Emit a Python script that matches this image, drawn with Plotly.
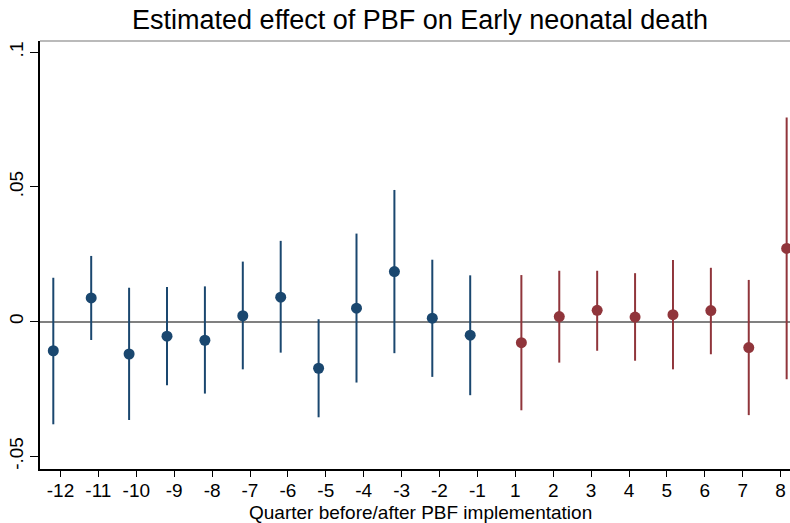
import plotly.graph_objects as go

# ---- data ----
quarters = ["-12", "-11", "-10", "-9", "-8", "-7", "-6", "-5", "-4", "-3", "-2", "-1",
            "1", "2", "3", "4", "5", "6", "7", "8"]

pre_labels = ["-12", "-11", "-10", "-9", "-8", "-7", "-6", "-5", "-4", "-3", "-2", "-1"]
pre_coef = [-0.0108, 0.0088, -0.0120, -0.0054, -0.0069, 0.0022, 0.0091, -0.0173, 0.0050, 0.0186, 0.0013, -0.0050]
pre_lo = [-0.0381, -0.0068, -0.0365, -0.0236, -0.0267, -0.0177, -0.0115, -0.0355, -0.0226, -0.0117, -0.0205, -0.0273]
pre_hi = [0.0163, 0.0244, 0.0126, 0.0129, 0.0131, 0.0223, 0.0300, 0.0009, 0.0327, 0.0489, 0.0230, 0.0172]

post_labels = ["1", "2", "3", "4", "5", "6", "7", "8"]
post_coef = [-0.0078, 0.0019, 0.0042, 0.0017, 0.0026, 0.0041, -0.0096, 0.0272]
post_lo = [-0.0329, -0.0152, -0.0108, -0.0145, -0.0177, -0.0121, -0.0347, -0.0214]
post_hi = [0.0173, 0.0189, 0.0189, 0.0180, 0.0229, 0.0200, 0.0155, 0.0758]

y_tickvals = [-0.05, 0, 0.05, 0.1]
y_ticktext = ["-.05", "0", ".05", ".1"]

title_text = "Estimated effect of PBF on Early neonatal death"
xtitle_text = "Quarter before/after PBF implementation"

BLUE = "#1a476f"
RED = "#90353b"
FONT = "Liberation Sans, Arial, Helvetica, sans-serif"

W, H = 790, 523
ML, MR, MT, MB = 40, 0, 41, 54

pos = {q: i for i, q in enumerate(quarters)}
pre_x = [pos[q] - 0.19 for q in pre_labels]
post_x = [pos[q] + 0.16 for q in post_labels]

fig = go.Figure()


def add_series(xs, coef, lo, hi, color):
    fig.add_trace(go.Scatter(
        x=xs, y=coef, mode="markers",
        marker=dict(color=color, size=11, line=dict(width=0)),
        error_y=dict(type="data", symmetric=False,
                     array=[h - c for h, c in zip(hi, coef)],
                     arrayminus=[c - l for c, l in zip(coef, lo)],
                     color=color, thickness=2, width=0),
        showlegend=False, cliponaxis=True,
    ))


add_series(pre_x, pre_coef, pre_lo, pre_hi, BLUE)
add_series(post_x, post_coef, post_lo, post_hi, RED)

plot_w = W - ML - MR
plot_h = H - MT - MB

fig.update_layout(
    width=W, height=H,
    margin=dict(l=ML, r=MR, t=MT, b=MB, pad=0),
    paper_bgcolor="white", plot_bgcolor="white",
    font=dict(family=FONT, color="black", size=19),
    title=dict(text=title_text, font=dict(size=27, family=FONT, color="black"),
               xref="container", yref="container",
               x=420 / W, y=1 - 20 / H, xanchor="center", yanchor="middle"),
    xaxis=dict(
        range=[-0.541, 19.248], tickmode="array",
        tickvals=list(range(len(quarters))), ticktext=quarters,
        showgrid=False, zeroline=False,
        showline=True, linecolor="black", linewidth=1.5,
        ticks="outside", ticklen=6, tickwidth=1, tickcolor="black",
        ticklabelstandoff=-3,
        tickfont=dict(size=19, family=FONT, color="black"),
    ),
    yaxis=dict(
        range=[-0.0547, 0.1042], tickmode="array",
        tickvals=y_tickvals, ticktext=y_ticktext, tickangle=-90,
        showgrid=False,
        zeroline=True, zerolinecolor="#808080", zerolinewidth=1.5,
        showline=True, linecolor="black", linewidth=1.5,
        ticks="outside", ticklen=8, tickwidth=1, tickcolor="black",
        tickfont=dict(size=19, family=FONT, color="black"),
    ),
    shapes=[dict(type="line", xref="paper", yref="paper", x0=0, x1=1, y0=1, y1=1,
                 line=dict(color="#777777", width=1.2))],
    annotations=[dict(text=xtitle_text, xref="paper", yref="paper",
                      x=(420.5 - ML) / plot_w, y=-(512 - (H - MB)) / plot_h,
                      xanchor="center", yanchor="middle", showarrow=False,
                      font=dict(size=19, family=FONT, color="black"))],
)

fig.write_html("out.html")
